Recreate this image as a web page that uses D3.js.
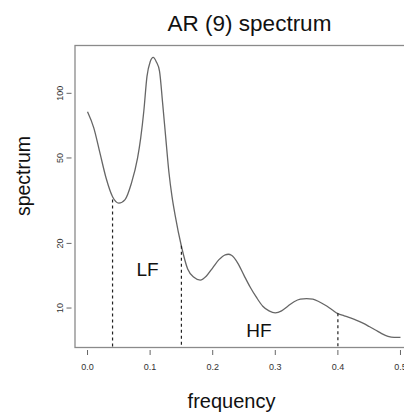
<!DOCTYPE html>
<html>
<head>
<meta charset="utf-8">
<script src="https://cdn.jsdelivr.net/npm/d3@7"></script>
<style>
  body { margin: 0; background: #fff; }
  svg { display: block; font-family: "Liberation Sans", Arial, sans-serif; }
</style>
</head>
<body>
<svg width="404" height="412"></svg>
<script>
// frequenze e valori dello spettro AR(9)
const freq = [0.000, 0.010, 0.020, 0.030, 0.040, 0.050, 0.060, 0.070, 0.080, 0.085,
  0.090, 0.095, 0.100, 0.105, 0.110, 0.115, 0.120, 0.125, 0.130, 0.135,
  0.140, 0.150, 0.160, 0.170, 0.180, 0.190, 0.200, 0.210, 0.220, 0.225,
  0.230, 0.240, 0.250, 0.260, 0.270, 0.280, 0.290, 0.300, 0.310, 0.320,
  0.330, 0.340, 0.350, 0.360, 0.370, 0.380, 0.390, 0.400, 0.410, 0.420,
  0.430, 0.440, 0.450, 0.460, 0.470, 0.480, 0.490, 0.500];
const spec = [82, 69, 52.5, 40, 33, 30.8, 32, 38, 50, 62,
  83, 120, 140, 147, 140, 127, 90, 62, 43, 33,
  27, 19.4, 15.2, 13.9, 13.5, 14.1, 15.4, 16.8, 17.7, 17.8,
  17.6, 16.2, 14.2, 12.5, 11.2, 10.2, 9.7, 9.5, 9.7, 10.2,
  10.7, 11.0, 11.07, 11.0, 10.7, 10.3, 9.85, 9.42, 9.2, 9.0,
  8.77, 8.5, 8.2, 7.9, 7.6, 7.38, 7.3, 7.3];

// limiti delle bande LF / HF e altezza delle linee tratteggiate
const bandEdges = [0.04, 0.15, 0.40];
const bandTops = [32, 19.5, 9.45];

const xTicks = [0.0, 0.1, 0.2, 0.3, 0.4, 0.5];
const yTicks = [10, 20, 50, 100];

const bandLabels = ["LF", "HF"];
const bandLabelFreq = [0.0958, 0.274];
const bandLabelVal = [14.1, 7.3];

const svg = d3.select('svg');

const x = d3.scaleLinear().domain([-0.02, 0.52]).range([75, 413]);
const y = d3.scaleLog().domain([6.55, 167]).range([347.5, 45.5]);

// riquadro del grafico
svg.append('rect')
  .attr('x', x(-0.02))
  .attr('y', y(167))
  .attr('width', x(0.52) - x(-0.02))
  .attr('height', y(6.55) - y(167))
  .style('fill', 'none')
  .style('stroke', '#8a8a8a')
  .style('stroke-width', 1.3);

// asse x: tacche ed etichette
const xg = svg.append('g');
xg.selectAll('line').data(xTicks).enter().append('line')
  .attr('x1', d => x(d)).attr('x2', d => x(d))
  .attr('y1', 350).attr('y2', 355)
  .style('stroke', '#666');
xg.selectAll('text').data(xTicks).enter().append('text')
  .attr('x', d => x(d))
  .attr('y', 370)
  .attr('text-anchor', 'middle')
  .attr('font-size', '9px')
  .attr('fill', '#333')
  .text(d => d3.format('.1f')(d));

// asse y (logaritmico): tacche ed etichette ruotate
const yg = svg.append('g');
yg.selectAll('line').data(yTicks).enter().append('line')
  .attr('x1', 66.5).attr('x2', 71.5)
  .attr('y1', d => y(d)).attr('y2', d => y(d))
  .style('stroke', '#666');
yg.selectAll('text').data(yTicks).enter().append('text')
  .attr('transform', d => `translate(62.5,${y(d)}) rotate(-90)`)
  .attr('text-anchor', 'middle')
  .attr('font-size', '9px')
  .attr('fill', '#333')
  .text(d => d);

// curva dello spettro
const line = d3.line()
  .x((d, i) => x(freq[i]))
  .y(d => y(d))
  .curve(d3.curveMonotoneX);

svg.append('path')
  .attr('d', line(spec))
  .style('fill', 'none')
  .style('stroke', '#666')
  .style('stroke-width', 1.3);

// linee tratteggiate ai limiti delle bande
svg.selectAll('.band').data(bandEdges).enter().append('line')
  .attr('class', 'band')
  .attr('x1', d => x(d)).attr('x2', d => x(d))
  .attr('y1', (d, i) => y(bandTops[i]))
  .attr('y2', y(6.55))
  .style('stroke', '#222')
  .style('stroke-width', 1.2)
  .style('stroke-dasharray', '3,3');

// etichette LF / HF
svg.selectAll('.bandlabel').data(bandLabels).enter().append('text')
  .attr('class', 'bandlabel')
  .attr('x', (d, i) => x(bandLabelFreq[i]))
  .attr('y', (d, i) => y(bandLabelVal[i]))
  .attr('text-anchor', 'middle')
  .attr('font-size', '19px')
  .attr('fill', '#111')
  .text(d => d);

// titolo e nomi degli assi
svg.append('text')
  .attr('x', 249.5)
  .attr('y', 31)
  .attr('text-anchor', 'middle')
  .attr('font-size', '22.5px')
  .attr('fill', '#111')
  .text('AR (9) spectrum');

svg.append('text')
  .attr('x', 231.5)
  .attr('y', 408)
  .attr('text-anchor', 'middle')
  .attr('font-size', '20px')
  .attr('fill', '#111')
  .text('frequency');

svg.append('text')
  .attr('transform', 'translate(30,176) rotate(-90)')
  .attr('text-anchor', 'middle')
  .attr('font-size', '19.5px')
  .attr('fill', '#111')
  .text('spectrum');
</script>
</body>
</html>
